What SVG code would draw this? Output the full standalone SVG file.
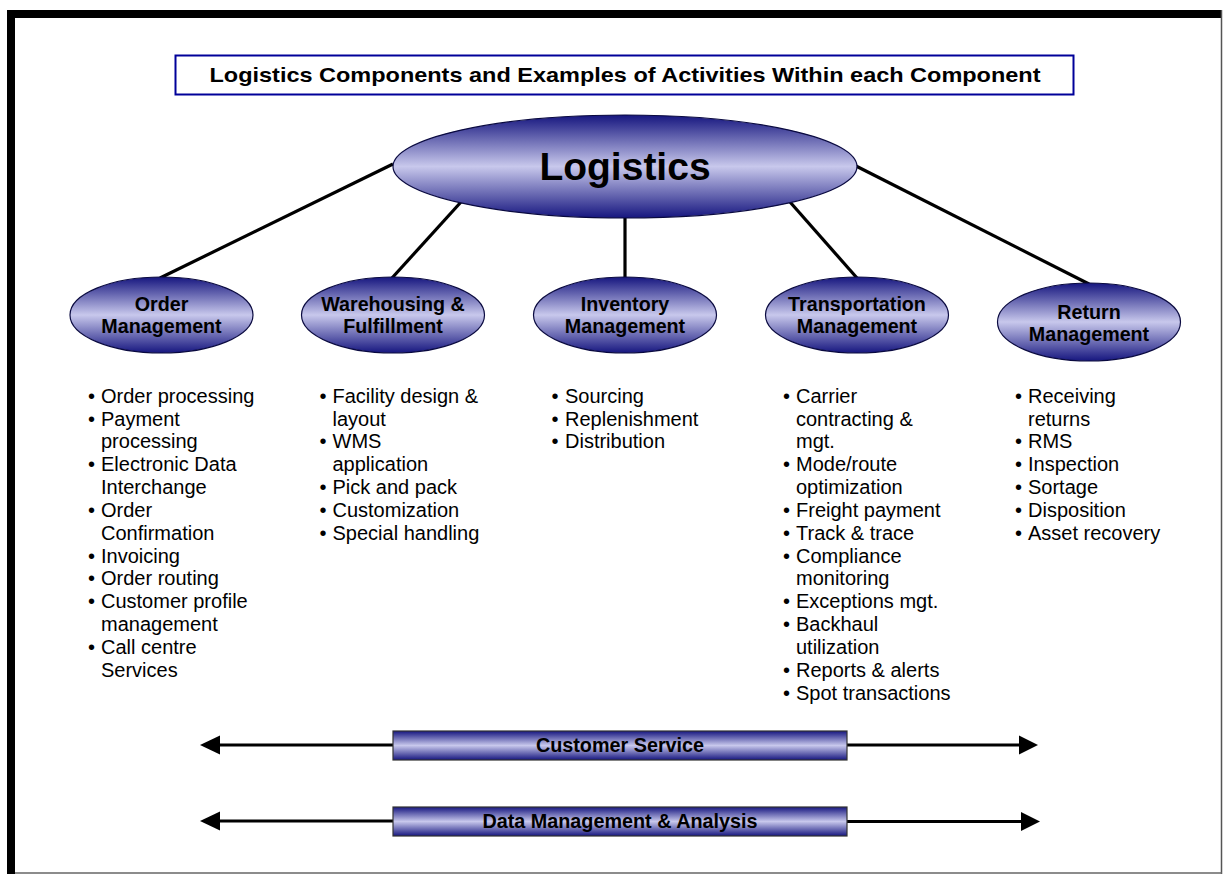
<svg xmlns="http://www.w3.org/2000/svg" width="1226" height="874" viewBox="0 0 1226 874">
<defs>
<linearGradient id="g" x1="0" y1="0" x2="0" y2="1">
<stop offset="0" stop-color="#16167f"/>
<stop offset="0.5" stop-color="#c8c8ec"/>
<stop offset="1" stop-color="#16167f"/>
</linearGradient>
<style>
.el{fill:url(#g);stroke:#0a0a40;stroke-width:1.2}
.bar{fill:url(#g);stroke:#333;stroke-width:1.2}
.lbl{font-family:"Liberation Sans",Arial,sans-serif;font-weight:bold;font-size:19.7px;fill:#000;text-anchor:middle}
.body{font-family:"Liberation Sans",Arial,sans-serif;font-size:20px;fill:#000}
.con{stroke:#000;stroke-width:3.2;fill:none}
.ah{fill:#000}
</style>
</defs>
<rect width="1226" height="874" fill="#fff"/>
<g id="frame">
<rect x="7" y="10" width="1215" height="8" fill="#000"/>
<rect x="7" y="10" width="8" height="864" fill="#000"/>
<line x1="1221.5" y1="10" x2="1221.5" y2="874" stroke="#555" stroke-width="1.5"/>
<line x1="15" y1="873" x2="1222" y2="873" stroke="#666" stroke-width="1.5"/>
</g>
<g id="title">
<rect x="175.5" y="55.5" width="898" height="39" fill="#fff" stroke="#000099" stroke-width="2"/>
<text x="625" y="82" class="lbl" style="font-size:21px" textLength="831" lengthAdjust="spacingAndGlyphs">Logistics Components and Examples of Activities Within each Component</text>
</g>
<g id="connectors">
<line class="con" x1="393" y1="164" x2="160" y2="278"/>
<line class="con" x1="461" y1="202" x2="392" y2="278"/>
<line class="con" x1="625" y1="217" x2="625" y2="278"/>
<line class="con" x1="790" y1="202" x2="857" y2="278"/>
<line class="con" x1="856" y1="166" x2="1089" y2="284"/>
<line class="con" x1="218" y1="745" x2="393" y2="745"/>
<polygon class="ah" points="200,745 220,735.5 220,754.5"/>
<line class="con" x1="847" y1="745" x2="1022" y2="745"/>
<polygon class="ah" points="1038,745 1019,735.5 1019,754.5"/>
<line class="con" x1="218" y1="821" x2="393" y2="821"/>
<polygon class="ah" points="200,821 220,811.5 220,830.5"/>
<line class="con" x1="847" y1="821.5" x2="1024" y2="821.5"/>
<polygon class="ah" points="1040,821.5 1021,812 1021,831"/>
</g>
<g id="logistics">
<ellipse class="el" cx="625" cy="166.5" rx="232" ry="51.5"/>
<text x="625" y="180" class="lbl" style="font-size:39px">Logistics</text>
</g>
<g id="order-management">
<ellipse class="el" cx="161.5" cy="315" rx="91.5" ry="38"/>
<text x="161.5" y="311" class="lbl">Order</text>
<text x="161.5" y="333" class="lbl">Management</text>
</g>
<g id="warehousing">
<ellipse class="el" cx="393" cy="315" rx="91.5" ry="38"/>
<text x="393" y="311" class="lbl">Warehousing &amp;</text>
<text x="393" y="333" class="lbl">Fulfillment</text>
</g>
<g id="inventory">
<ellipse class="el" cx="625" cy="315" rx="91.5" ry="38"/>
<text x="625" y="311" class="lbl">Inventory</text>
<text x="625" y="333" class="lbl">Management</text>
</g>
<g id="transportation">
<ellipse class="el" cx="857" cy="315" rx="91.5" ry="38"/>
<text x="857" y="311" class="lbl">Transportation</text>
<text x="857" y="333" class="lbl">Management</text>
</g>
<g id="return">
<ellipse class="el" cx="1089" cy="322" rx="91.5" ry="39"/>
<text x="1089" y="318.5" class="lbl">Return</text>
<text x="1089" y="340.5" class="lbl">Management</text>
</g>
<g id="order-list" class="body">
<text x="88" y="402.7">•</text><text x="101" y="402.7">Order processing</text>
<text x="88" y="425.5">•</text><text x="101" y="425.5">Payment</text>
<text x="101" y="448.4">processing</text>
<text x="88" y="471.2">•</text><text x="101" y="471.2">Electronic Data</text>
<text x="101" y="494">Interchange</text>
<text x="88" y="516.9">•</text><text x="101" y="516.9">Order</text>
<text x="101" y="539.7">Confirmation</text>
<text x="88" y="562.5">•</text><text x="101" y="562.5">Invoicing</text>
<text x="88" y="585.3">•</text><text x="101" y="585.3">Order routing</text>
<text x="88" y="608.2">•</text><text x="101" y="608.2">Customer profile</text>
<text x="101" y="631">management</text>
<text x="88" y="653.8">•</text><text x="101" y="653.8">Call centre</text>
<text x="101" y="676.7">Services</text>
</g>
<g id="warehousing-list" class="body">
<text x="319.5" y="402.7">•</text><text x="332.5" y="402.7">Facility design &amp;</text>
<text x="332.5" y="425.5">layout</text>
<text x="319.5" y="448.4">•</text><text x="332.5" y="448.4">WMS</text>
<text x="332.5" y="471.2">application</text>
<text x="319.5" y="494">•</text><text x="332.5" y="494">Pick and pack</text>
<text x="319.5" y="516.9">•</text><text x="332.5" y="516.9">Customization</text>
<text x="319.5" y="539.7">•</text><text x="332.5" y="539.7">Special handling</text>
</g>
<g id="inventory-list" class="body">
<text x="551.5" y="402.7">•</text><text x="565" y="402.7">Sourcing</text>
<text x="551.5" y="425.5">•</text><text x="565" y="425.5">Replenishment</text>
<text x="551.5" y="448.4">•</text><text x="565" y="448.4">Distribution</text>
</g>
<g id="transportation-list" class="body">
<text x="783" y="402.7">•</text><text x="796" y="402.7">Carrier</text>
<text x="796" y="425.5">contracting &amp;</text>
<text x="796" y="448.4">mgt.</text>
<text x="783" y="471.2">•</text><text x="796" y="471.2">Mode/route</text>
<text x="796" y="494">optimization</text>
<text x="783" y="516.9">•</text><text x="796" y="516.9">Freight payment</text>
<text x="783" y="539.7">•</text><text x="796" y="539.7">Track &amp; trace</text>
<text x="783" y="562.5">•</text><text x="796" y="562.5">Compliance</text>
<text x="796" y="585.3">monitoring</text>
<text x="783" y="608.2">•</text><text x="796" y="608.2">Exceptions mgt.</text>
<text x="783" y="631">•</text><text x="796" y="631">Backhaul</text>
<text x="796" y="653.8">utilization</text>
<text x="783" y="676.7">•</text><text x="796" y="676.7">Reports &amp; alerts</text>
<text x="783" y="699.5">•</text><text x="796" y="699.5">Spot transactions</text>
</g>
<g id="return-list" class="body">
<text x="1015" y="402.7">•</text><text x="1028" y="402.7">Receiving</text>
<text x="1028" y="425.5">returns</text>
<text x="1015" y="448.4">•</text><text x="1028" y="448.4">RMS</text>
<text x="1015" y="471.2">•</text><text x="1028" y="471.2">Inspection</text>
<text x="1015" y="494">•</text><text x="1028" y="494">Sortage</text>
<text x="1015" y="516.9">•</text><text x="1028" y="516.9">Disposition</text>
<text x="1015" y="539.7">•</text><text x="1028" y="539.7">Asset recovery</text>
</g>
<g id="customer-service">
<rect class="bar" x="393" y="731" width="454" height="29"/>
<text x="620" y="752" class="lbl" style="font-size:19.8px">Customer Service</text>
</g>
<g id="data-management">
<rect class="bar" x="393" y="807" width="454" height="29"/>
<text x="620" y="828" class="lbl" style="font-size:19.8px">Data Management &amp; Analysis</text>
</g>
</svg>
